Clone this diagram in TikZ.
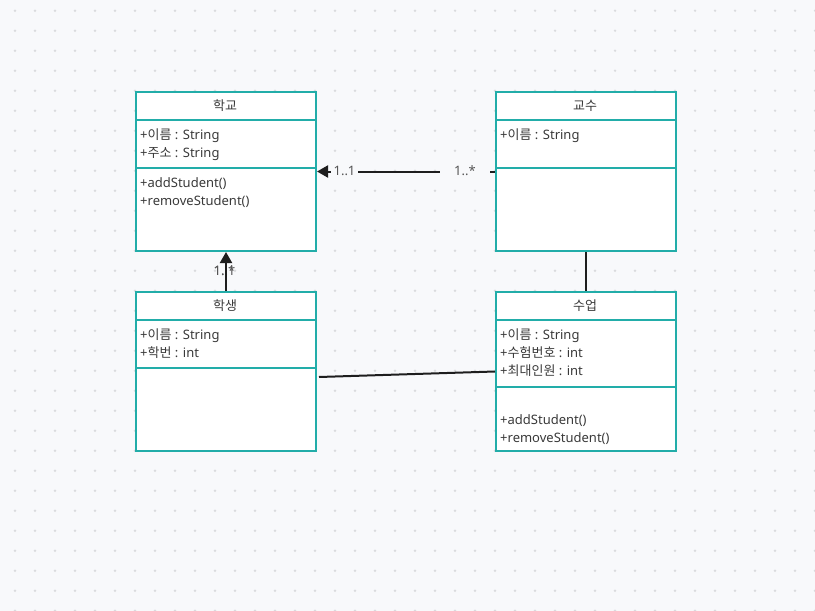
\documentclass[tikz,border=0pt]{standalone}
\usepackage{fontspec}
\setmainfont{Noto Sans}
\newfontfamily\kr{Noto Sans CJK KR}
\usetikzlibrary{arrows.meta}
\definecolor{bg}{HTML}{F8F9FB}
\definecolor{dotc}{HTML}{DADBDE}
\definecolor{teal}{HTML}{22ADA9}
\definecolor{txt}{HTML}{3A3A3A}
\definecolor{lbl}{HTML}{555555}
\definecolor{edge}{HTML}{1E1E1E}
\tikzset{
  x=1pt, y=-1pt,
  cls/.style={draw=teal, line width=2pt, fill=white, minimum width=180pt, minimum height=159pt, anchor=north west, inner sep=0pt},
  sep/.style={draw=teal, line width=2pt},
  ttl/.style={anchor=base, font=\fontsize{13}{15}\selectfont, text=txt, inner sep=0pt},
  mem/.style={anchor=base west, font=\fontsize{13}{15}\selectfont, text=txt, inner sep=0pt},
  mlabel/.style={font=\fontsize{13}{15}\selectfont, text=lbl, inner sep=0pt},
  assoc/.style={draw=edge, line width=2pt},
  arr/.style={assoc, -{Triangle[length=11pt,width=12pt]}},
}
\begin{document}
\begin{tikzpicture}
\fill[bg] (0,0) rectangle (815,611);
\useasboundingbox (0,0) rectangle (815,611);
\foreach \i in {0,...,40} {
  \foreach \j in {0,...,30} {
    \fill[dotc] (15+20*\i, 10.7+20*\j) circle (1.3pt);
  }
}
% classes
\node[cls] (school) at (135,91) {};
\node[cls] (prof) at (495,91) {};
\node[cls] (student) at (135,291) {};
\node[cls] (course) at (495,291) {};
% separators
\draw[sep] (school.west |- 0,120) -- (school.east |- 0,120);
\draw[sep] (school.west |- 0,168) -- (school.east |- 0,168);
\draw[sep] (prof.west |- 0,120) -- (prof.east |- 0,120);
\draw[sep] (prof.west |- 0,168) -- (prof.east |- 0,168);
\draw[sep] (student.west |- 0,320) -- (student.east |- 0,320);
\draw[sep] (student.west |- 0,368) -- (student.east |- 0,368);
\draw[sep] (course.west |- 0,320) -- (course.east |- 0,320);
\draw[sep] (course.west |- 0,387) -- (course.east |- 0,387);
% texts
\node[ttl] (t1) at (225,110) {\kr 학교};
\node[mem] (s1) at (140,139) {+{\kr 이름} : String};
\node[mem] (s2) at (140,157) {+{\kr 주소} : String};
\node[mem] (s3) at (140,187) {+addStudent()};
\node[mem] (s4) at (140,205) {+removeStudent()};
\node[ttl] (t2) at (585,110) {\kr 교수};
\node[mem] (p1) at (500,139) {+{\kr 이름} : String};
\node[ttl] (t3) at (225,310) {\kr 학생};
\node[mem] (st1) at (140,339) {+{\kr 이름} : String};
\node[mem] (st2) at (140,357) {+{\kr 학번} : int};
\node[ttl] (t4) at (585,310) {\kr 수업};
\node[mem] (c1) at (500,339) {+{\kr 이름} : String};
\node[mem] (c2) at (500,357) {+{\kr 수험번호} : int};
\node[mem] (c3) at (500,375) {+{\kr 최대인원} : int};
\node[mem] (c4) at (500,424) {+addStudent()};
\node[mem] (c5) at (500,442) {+removeStudent()};
% connectors
\draw[arr] (prof.west) -- (school.east);
\node[mlabel, fill=bg, minimum width=27pt, minimum height=14pt] (l1) at (344.5,171) {1..1};
\node[mlabel, fill=bg, minimum width=50pt, minimum height=14pt] (l2) at (465,171) {1..*};
\node[mlabel] (l3) at (224.5,271) {1..1};
\node[mlabel] (l4) at (224.5,271) {1..*};
\draw[arr] (student.north) -- (school.south);
\draw[assoc] (prof.south) -- (course.north);
\draw[assoc] ([xshift=2pt,yshift=-5.5pt]student.east) -- (course.west);
\end{tikzpicture}
\end{document}
